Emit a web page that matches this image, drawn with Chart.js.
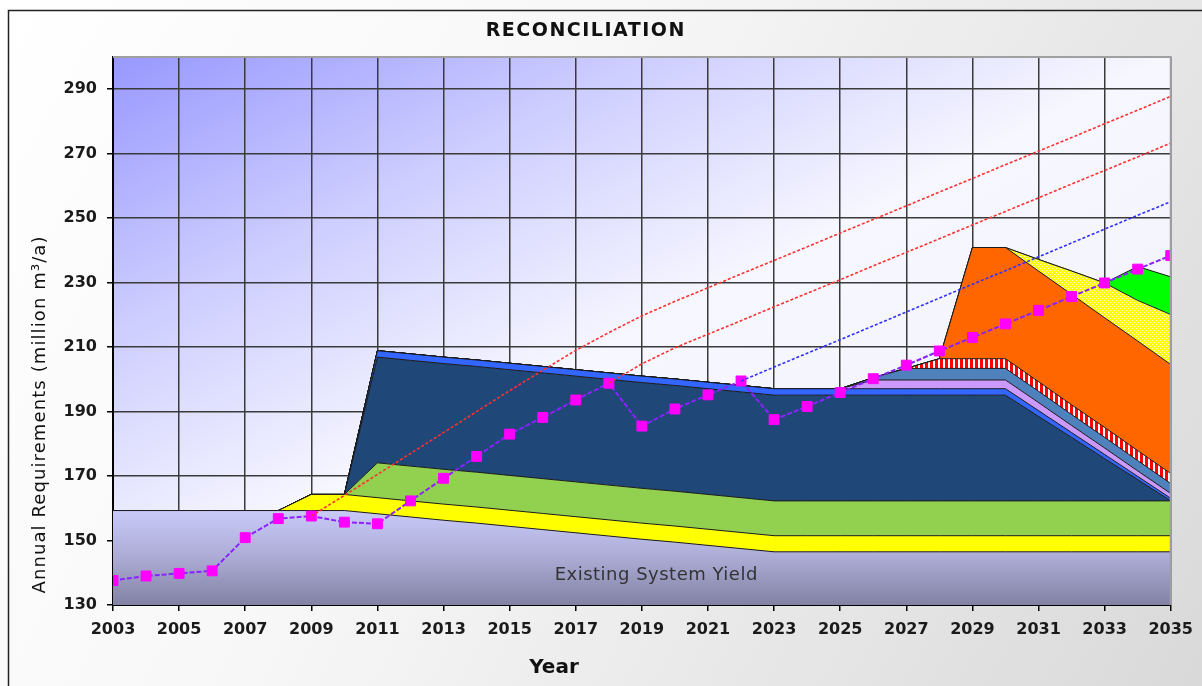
<!DOCTYPE html>
<html>
<head>
<meta charset="utf-8">
<script src="https://cdn.jsdelivr.net/npm/chart.js@4"></script>
<style>
  html, body { margin: 0; padding: 0; background: #fff; overflow: hidden; }
</style>
</head>
<body>
<canvas id="chart" width="1202" height="686"></canvas>
<script>
// ====== Data ======
const years = [2003, 2004, 2005, 2006, 2007, 2008, 2009, 2010, 2011, 2012, 2013,
  2014, 2015, 2016, 2017, 2018, 2019, 2020, 2021, 2022, 2023, 2024,
  2025, 2026, 2027, 2028, 2029, 2030, 2031, 2032, 2033, 2034, 2035];
const xTicks = [2003, 2005, 2007, 2009, 2011, 2013, 2015, 2017, 2019, 2021, 2023, 2025, 2027, 2029, 2031, 2033, 2035];
const yTicks = [130, 150, 170, 190, 210, 230, 250, 270, 290];

// stacked supply layers (million m3/a), bottom to top
const existingYield = [159.3, 159.3, 159.3, 159.3, 159.3, 159.3, 159.3, 159.3, 158.3, 157.3, 156.3,
  155.4, 154.4, 153.4, 152.4, 151.4, 150.4, 149.5, 148.5, 147.5, 146.5, 146.5,
  146.5, 146.5, 146.5, 146.5, 146.5, 146.5, 146.5, 146.5, 146.5, 146.5, 146.5];
const yellowBand = [0, 0, 0, 0, 0, 0, 5, 5, 5, 5, 5,
  5, 5, 5, 5, 5, 5, 5, 5, 5, 5, 5,
  5, 5, 5, 5, 5, 5, 5, 5, 5, 5, 5];
const greenBand = [0, 0, 0, 0, 0, 0, 0, 0, 10.8, 10.8, 10.8,
  10.8, 10.8, 10.8, 10.8, 10.8, 10.8, 10.8, 10.8, 10.8, 10.8, 10.8,
  10.8, 10.8, 10.8, 10.8, 10.8, 10.8, 10.8, 10.8, 10.8, 10.8, 10.8];
const navyBand = [0, 0, 0, 0, 0, 0, 0, 0, 32.8, 32.8, 32.8,
  32.8, 32.8, 32.8, 32.8, 32.8, 32.8, 32.8, 32.8, 32.8, 32.8, 32.8,
  32.8, 32.8, 32.8, 32.8, 32.8, 32.8, 26.2, 19.7, 13.1, 6.6, 0];
const blueBand = [0, 0, 0, 0, 0, 0, 0, 0, 2, 2, 2,
  2, 2, 2, 2, 2, 2, 2, 2, 2, 2, 2,
  2, 2, 2, 2, 2, 2, 1.8, 1.5, 1.3, 1.0, 0.8];
const lilacBand = [0, 0, 0, 0, 0, 0, 0, 0, 0, 0, 0,
  0, 0, 0, 0, 0, 0, 0, 0, 0, 0, 0,
  0, 2.7, 2.7, 2.7, 2.7, 2.7, 2.5, 2.2, 2.0, 1.7, 1.5];
const steelBand = [0, 0, 0, 0, 0, 0, 0, 0, 0, 0, 0,
  0, 0, 0, 0, 0, 0, 0, 0, 0, 0, 0,
  0, 0.7, 3.6, 3.6, 3.6, 3.6, 3.5, 3.4, 3.3, 3.2, 3.1];
const hatchBand = [0, 0, 0, 0, 0, 0, 0, 0, 0, 0, 0,
  0, 0, 0, 0, 0, 0, 0, 0, 0, 0, 0,
  0, 0, 0, 3.0, 3.0, 3.0, 3.0, 3.0, 3.1, 3.1, 3.1];
const orangeBand = [0, 0, 0, 0, 0, 0, 0, 0, 0, 0, 0,
  0, 0, 0, 0, 0, 0, 0, 0, 0, 0, 0,
  0, 0, 0, 0, 34.5, 34.5, 34.3, 34.3, 34.0, 34.0, 33.8];
const dottedBand = [0, 0, 0, 0, 0, 0, 0, 0, 0, 0, 0,
  0, 0, 0, 0, 0, 0, 0, 0, 0, 0, 0,
  0, 0, 0, 0, 0, 0, 3.6, 7.2, 10.8, 12.6, 15.5];
const limeBand = [0, 0, 0, 0, 0, 0, 0, 0, 0, 0, 0,
  0, 0, 0, 0, 0, 0, 0, 0, 0, 0, 0,
  0, 0, 0, 0, 0, 0, 0, 0, 0, 10.5, 11.7];

// requirement curves
const demand = [137.6, 139.0, 139.8, 140.6, 150.9, 156.8, 157.6, 155.7, 155.2, 162.3, 169.3,
  176.1, 183.0, 188.2, 193.6, 198.8, 185.5, 190.8, 195.2, 199.5, 187.5, 191.6,
  195.9, 200.2, 204.4, 208.8, 213.0, 217.2, 221.4, 225.7, 229.9, 234.2, 238.4];
const highProjection = [null, null, null, null, null, null, 157.6, 164.0, 170.5, 177.0, 183.5,
  190.0, 196.5, 202.8, 209.0, 214.5, 219.7, 224.2, 228.4, 232.7, 236.9, 241.1,
  245.4, 249.6, 253.8, 258.1, 262.3, 266.6, 270.8, 275.0, 279.3, 283.5, 287.8];
const midProjection = [null, null, null, null, null, null, null, null, null, null, null,
  null, null, null, null, 198.8, 204.8, 209.8, 214.0, 218.2, 222.5, 226.7,
  230.9, 235.2, 239.4, 243.6, 247.9, 252.1, 256.3, 260.6, 264.8, 269.0, 273.3];
const lowProjection = [null, null, null, null, null, null, null, null, null, null, null,
  null, null, null, null, null, null, null, null, 199.5, 203.8, 208.1,
  212.3, 216.6, 220.9, 225.2, 229.5, 233.7, 238.0, 242.3, 246.6, 250.9, 255.1];

// ====== Helpers ======
const pts = (arr) => years.map((x, i) => ({ x, y: arr[i] }));

function makePattern(w, h, draw) {
  const c = document.createElement("canvas");
  c.width = w;
  c.height = h;
  draw(c.getContext("2d"));
  return c.getContext("2d").createPattern(c, "repeat");
}
const hatch = makePattern(5, 5, (g) => {
  g.fillStyle = "#ffffff";
  g.fillRect(0, 0, 5, 5);
  g.fillStyle = "#ff0000";
  g.fillRect(0, 0, 3, 5);
});
const dots = makePattern(4, 4, (g) => {
  g.fillStyle = "#ffff00";
  g.fillRect(0, 0, 4, 4);
  g.fillStyle = "#ffffd0";
  g.fillRect(0, 0, 1, 1);
  g.fillRect(2, 2, 1, 1);
});

function baseFill(ctx) {
  const { chart } = ctx;
  const area = chart.chartArea;
  if (!area) return "#b8b8e8";
  const y0 = chart.scales.y.getPixelForValue(160);
  const g = chart.ctx.createLinearGradient(0, y0, 0, area.bottom);
  g.addColorStop(0, "#cbcbfb");
  g.addColorStop(0.5, "#acacd6");
  g.addColorStop(1, "#8282a4");
  return g;
}

const area = (data, bg, fill) => ({
  type: "line",
  data: pts(data),
  backgroundColor: bg,
  borderColor: "#1a1a1a",
  borderWidth: 1,
  pointRadius: 0,
  fill,
  stack: "supply",
  order: 1,
});
const dashed = (data, color, name) => ({
  type: "line",
  data: pts(data),
  borderColor: color,
  borderWidth: 1.6,
  borderDash: [3, 2],
  pointRadius: 0,
  fill: false,
  stack: name,
  order: 0,
  spanGaps: false,
});

// draw a string with extra letter spacing, centred on x
function spaced(ctx, text, x, y, spacing) {
  ctx.letterSpacing = spacing + "px";
  ctx.fillText(text, x + spacing / 2, y);
  ctx.letterSpacing = "0px";
}

// ====== Decorations ======
const decor = {
  id: "decor",
  beforeDraw(chart) {
    const { ctx, chartArea: a } = chart;
    ctx.save();
    const og = ctx.createLinearGradient(0, 0, 1202, 686);
    og.addColorStop(0, "#ffffff");
    og.addColorStop(0.4, "#f7f7f7");
    og.addColorStop(1, "#d9d9d9");
    ctx.fillStyle = og;
    ctx.fillRect(0, 0, 1202, 686);
    ctx.strokeStyle = "#222";
    ctx.lineWidth = 1.5;
    ctx.strokeRect(8.5, 10.5, 1300, 800);

    const w = a.right - a.left, h = a.bottom - a.top;
    const k = (2 * w * h) / (w * w + h * h);
    const pg = ctx.createLinearGradient(a.left, a.top, a.left + h * k, a.top + w * k);
    pg.addColorStop(0, "#9898ff");
    pg.addColorStop(0.25, "#cdcdff");
    pg.addColorStop(0.5, "#f7f7ff");
    pg.addColorStop(1, "#f0f0f8");
    ctx.fillStyle = pg;
    ctx.fillRect(a.left, a.top, w, h);
    ctx.restore();
  },
  afterDraw(chart) {
    const { ctx, chartArea: a } = chart;
    ctx.save();
    ctx.strokeStyle = "#a0a0a0";
    ctx.lineWidth = 2;
    ctx.beginPath();
    ctx.moveTo(a.left, a.top);
    ctx.lineTo(a.right, a.top);
    ctx.lineTo(a.right, a.bottom);
    ctx.stroke();

    ctx.fillStyle = "#111";
    ctx.textAlign = "center";
    ctx.textBaseline = "middle";
    ctx.font = 'bold 19px "DejaVu Sans"';
    spaced(ctx, "RECONCILIATION", 585, 31, 1.5);
    ctx.font = 'bold 20px "DejaVu Sans"';
    ctx.fillText("Year", 554, 668);
    ctx.fillStyle = "#333";
    ctx.font = '18px "DejaVu Sans"';
    spaced(ctx, "Existing System Yield", 656, 575, 0.5);
    ctx.fillStyle = "#111";
    ctx.translate(40, 415);
    ctx.rotate(-Math.PI / 2);
    ctx.font = '18px "DejaVu Sans"';
    spaced(ctx, "Annual Requirements (million m\u00b3/a)", 0, 0, 1.1);
    ctx.restore();
  },
};

// ====== Chart ======
const tickFont = { family: "DejaVu Sans", size: 16, weight: "bold" };

new Chart(document.getElementById("chart"), {
  type: "line",
  data: {
    datasets: [
      area(existingYield, baseFill, "start"),
      area(yellowBand, "#ffff00", "-1"),
      area(greenBand, "#92d050", "-1"),
      area(navyBand, "#1f4778", "-1"),
      area(blueBand, "#3366ff", "-1"),
      area(lilacBand, "#cc99ff", "-1"),
      area(steelBand, "#4f81bd", "-1"),
      area(hatchBand, hatch, "-1"),
      area(orangeBand, "#ff6600", "-1"),
      area(dottedBand, dots, "-1"),
      area(limeBand, "#00ff00", "-1"),
      dashed(highProjection, "#ff3030", "high"),
      dashed(midProjection, "#ff3030", "mid"),
      dashed(lowProjection, "#3030ff", "low"),
      {
        type: "line",
        data: pts(demand),
        borderColor: "#8a22ff",
        borderWidth: 2,
        borderDash: [5, 2],
        pointStyle: "rect",
        pointRadius: 7,
        pointBackgroundColor: "#ff00ff",
        pointBorderColor: "#ff00ff",
        pointBorderWidth: 1,
        fill: false,
        stack: "demand",
        order: 0,
      },
    ],
  },
  options: {
    responsive: false,
    animation: false,
    devicePixelRatio: 1,
    layout: { padding: { top: 57, right: 30, left: 0, bottom: 0 } },
    elements: { line: { tension: 0 } },
    plugins: {
      legend: { display: false },
      tooltip: { enabled: false },
      title: { display: false },
    },
    scales: {
      x: {
        type: "linear",
        min: 2003,
        max: 2035,
        afterBuildTicks: (s) => { s.ticks = xTicks.map((value) => ({ value })); },
        afterFit: (s) => { s.height = 81; },
        grid: { color: "#3a3a3a", lineWidth: 1.5, tickLength: 6, tickColor: "#000" },
        border: { color: "#000", width: 2 },
        ticks: { font: tickFont, color: "#1a1a1a", padding: 9, maxRotation: 0, callback: (v) => String(v) },
      },
      y: {
        type: "linear",
        stacked: true,
        min: 130,
        max: 300,
        afterBuildTicks: (s) => { s.ticks = yTicks.map((value) => ({ value })); },
        afterFit: (s) => { s.width = 113; },
        grid: { color: "#3a3a3a", lineWidth: 1.5, tickLength: 6, tickColor: "#000" },
        border: { color: "#000", width: 2 },
        ticks: { font: tickFont, color: "#1a1a1a", padding: 10, callback: (v) => String(v) },
      },
    },
  },
  plugins: [decor],
});
</script>
</body>
</html>
